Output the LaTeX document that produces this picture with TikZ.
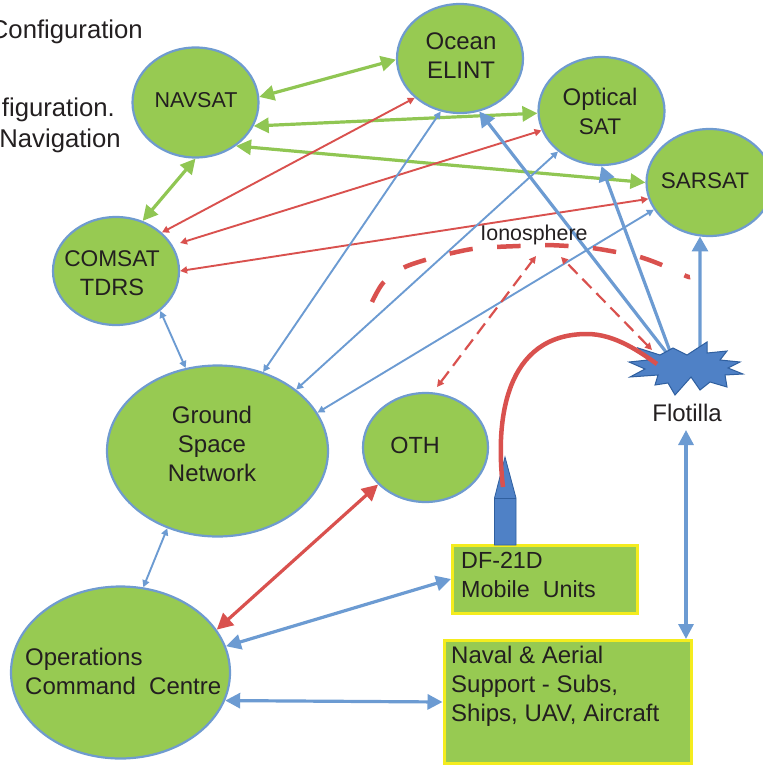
\documentclass[tikz,border=0pt]{standalone}
\usepackage{fontspec}
\setmainfont{Liberation Sans}
\usetikzlibrary{arrows.meta,shapes.geometric}
\definecolor{sgreen}{HTML}{97CA52}
\definecolor{eline}{HTML}{6F9BCF}
\definecolor{lgreen}{HTML}{90C653}
\definecolor{lred}{HTML}{D9514E}
\definecolor{lblue}{HTML}{6C9BD2}
\definecolor{sblue}{HTML}{4F81C6}
\definecolor{dblue}{HTML}{2F5F9F}
\definecolor{boxy}{HTML}{F4EC1E}
\definecolor{ink}{HTML}{231F20}
\newcommand{\fsz}[1]{\fontsize{#1}{29}\selectfont}
\tikzset{
 sat/.style={ellipse,draw=eline,fill=sgreen,line width=2.2pt,inner sep=0pt},
 lbl/.style={text=ink,font=\fsz{24},inner sep=0pt,align=center},
 lbll/.style={text=ink,font=\fsz{24},inner sep=0pt,align=left,anchor=west},
 yb/.style={draw=boxy,fill=sgreen,line width=3pt,inner sep=0pt,rectangle},
 thickg/.style={draw=lgreen,line width=3.2pt,{Triangle[length=15pt,width=15pt]}-{Triangle[length=15pt,width=15pt]}},
 thickb/.style={draw=lblue,line width=3.2pt,{Triangle[length=15pt,width=15pt]}-{Triangle[length=15pt,width=15pt]}},
 thickbo/.style={draw=lblue,line width=3.2pt,-{Triangle[length=15pt,width=16pt]}},
 thickr/.style={draw=lred,line width=3.2pt,{Triangle[length=16pt,width=16pt]}-{Triangle[length=16pt,width=16pt]}},
 thinr/.style={draw=lred,line width=1.9pt,{Triangle[length=7pt,width=7pt]}-{Triangle[length=7pt,width=7pt]}},
 thinb/.style={draw=lblue,line width=1.9pt,{Triangle[length=7pt,width=7pt]}-{Triangle[length=7pt,width=7pt]}},
 dashr/.style={draw=lred,line width=2.2pt,dash pattern=on 13pt off 7pt,{Triangle[length=7pt,width=7pt]}-{Triangle[length=7pt,width=7pt]}},
}
\begin{document}
\begin{tikzpicture}[x=1pt,y=-1pt]
\useasboundingbox (0,0) rectangle (762,767);
% satellites
\node[sat,minimum width=126pt,minimum height=110pt] (nav) at (195.5,102.5) {};
\node[sat,minimum width=126pt,minimum height=108pt] (com) at (116,271) {};
\node[sat,minimum width=126pt,minimum height=109pt] (oce) at (460,58.5) {};
\node[sat,minimum width=126pt,minimum height=108pt] (opt) at (601.5,111) {};
\node[sat,minimum width=126pt,minimum height=107pt] (sar) at (709.5,182.5) {};
\node[sat,minimum width=221pt,minimum height=171pt] (gnd) at (217.5,451) {};
\node[sat,minimum width=125pt,minimum height=109pt] (oth) at (425.5,447.5) {};
\node[sat,minimum width=219pt,minimum height=172pt] (ops) at (120.5,672.5) {};
\node[yb,minimum width=185pt,minimum height=68pt] (df) at (545,579) {};
\node[yb,minimum width=247pt,minimum height=123pt] (nvl) at (567.5,702) {};
% missile
\draw[fill=sblue,draw=dblue,line width=.8pt] (494.5,545) -- (494.5,498) -- (505,457) -- (516,498) -- (516,545) -- cycle;
\draw[dblue,line width=.8pt] (494.5,498) -- (516,498);
% helper ends
\coordinate (cm2) at (180,243);
\coordinate (othd) at (437,387);
\coordinate (ion1) at (536,256);
\coordinate (ion2) at (561,257);
\coordinate (flr) at (652,350);
\coordinate (flo) at (666,352);
\coordinate (flp) at (671,354);
\coordinate (fls) at (700,348);
\coordinate (fln) at (686,430);
% green
\draw[thickg] (nav.5) -- (oce.181);
\draw[thickg] (nav.-22) -- (opt.182);
\draw[thickg] (nav.-47) -- (sar.180);
\draw[thickg] (nav.-90) -- (com.62);
% red thin
\draw[thinr] (oce.221) -- (com.40);
\draw[thinr] (opt.198) -- (cm2);
\draw[thinr] (sar.195) -- (com.0);
% blue thin
\draw[thinb] (com.-42) -- (gnd.111);
\draw[thinb] (oce.250) -- (gnd.60);
\draw[thinb] (opt.223) -- (gnd.38);
\draw[thinb] (sar.206) -- (gnd.21);
\draw[thinb] (gnd.237) -- (ops.75);
% blue thick
\draw[thickbo] (flo) -- (oce.-70);
\draw[thickbo] (flp) -- (opt.-90);
\draw[thickbo] (fls) -- (sar.260);
\draw[thickb] (fln) -- (nvl.north -| fln);
\draw[thickb] (df.west) -- (ops.14.6);
\draw[thickb] (nvl.west) -- (ops.-15);
\draw[thickr] (oth.218) -- (ops.24);
% dashed
\draw[dashr] (othd) -- (ion1);
\draw[dashr] (flr) -- (ion2);
\draw[draw=lred,line width=4.5pt,dash pattern=on 23.5pt off 24.5pt] plot[smooth] coordinates {(372,302) (383,283) (403,268) (425,260) (448,254) (472,249) (496,247) (519,246) (544,245) (568,246) (592,248) (616,252) (640,257) (662,265) (686,276) (690,277)};
% flotilla star
\draw[fill=sblue,draw=dblue,line width=1pt] (629,362) -- (648,360) -- (638,348) -- (660,355) -- (673,348) -- (687,355) -- (707,342) -- (707,353) -- (727,351) -- (720,360) -- (740,362) -- (728,368) -- (743,374) -- (725,375) -- (727,387) -- (710,382) -- (700,390) -- (691,377) -- (675,395) -- (668,383) -- (655,385) -- (658,375) -- (630,377) -- (645,369) -- cycle;
\draw[draw=lred,line width=4.5pt] (503,487) .. controls (495,420) and (505,334) .. (587,334) .. controls (615,334) and (640,352) .. (657,364);
% text
\node[lbl,font=\fsz{25.7},anchor=base east] (t1) at (143,39) {Configuration};
\node[lbl,font=\fsz{25.7},anchor=base east] (t2) at (115,117) {figuration.};
\node[lbl,font=\fsz{25.7},anchor=base east] (t3) at (121,148) {Navigation};
\node[lbl,font=\fsz{21.5},anchor=base] (lnav) at (196,108) {NAVSAT};
\node[lbl,font=\fsz{23.6}] (lcom) at (112,273) {{\fsz{22.7}COMSAT}\\TDRS};
\node[lbl,font=\fsz{24}] (loce) at (461,56) {Ocean\\ELINT};
\node[lbl,font=\fsz{24}] (lopt) at (600,111) {Optical\\{\fsz{22.6}SAT}};
\node[lbl,font=\fsz{22.5},anchor=base] (lsar) at (705,189) {SARSAT};
\node[lbl] (lgnd) at (212,444) {Ground\\Space\\Network};
\node[lbl,font=\fsz{23.4},anchor=base] (loth) at (415,453) {OTH};
\node[lbl,anchor=base] (lflo) at (687,421) {Flotilla};
\node[lbl,font=\fsz{21.4},anchor=base] (lion) at (534,240) {Ionosphere};
\node[lbll] (lops) at (25,671) {Operations\\Command\ \ Centre};
\node[lbll,font=\fsz{23.3}] (ldf) at (461,575) {DF-21D\\Mobile\ \ Units};
\node[lbll] (lnvl) at (451,686) {Naval \& Aerial\\Support - Subs,\\Ships, UAV, Aircraft};
\end{tikzpicture}
\end{document}
